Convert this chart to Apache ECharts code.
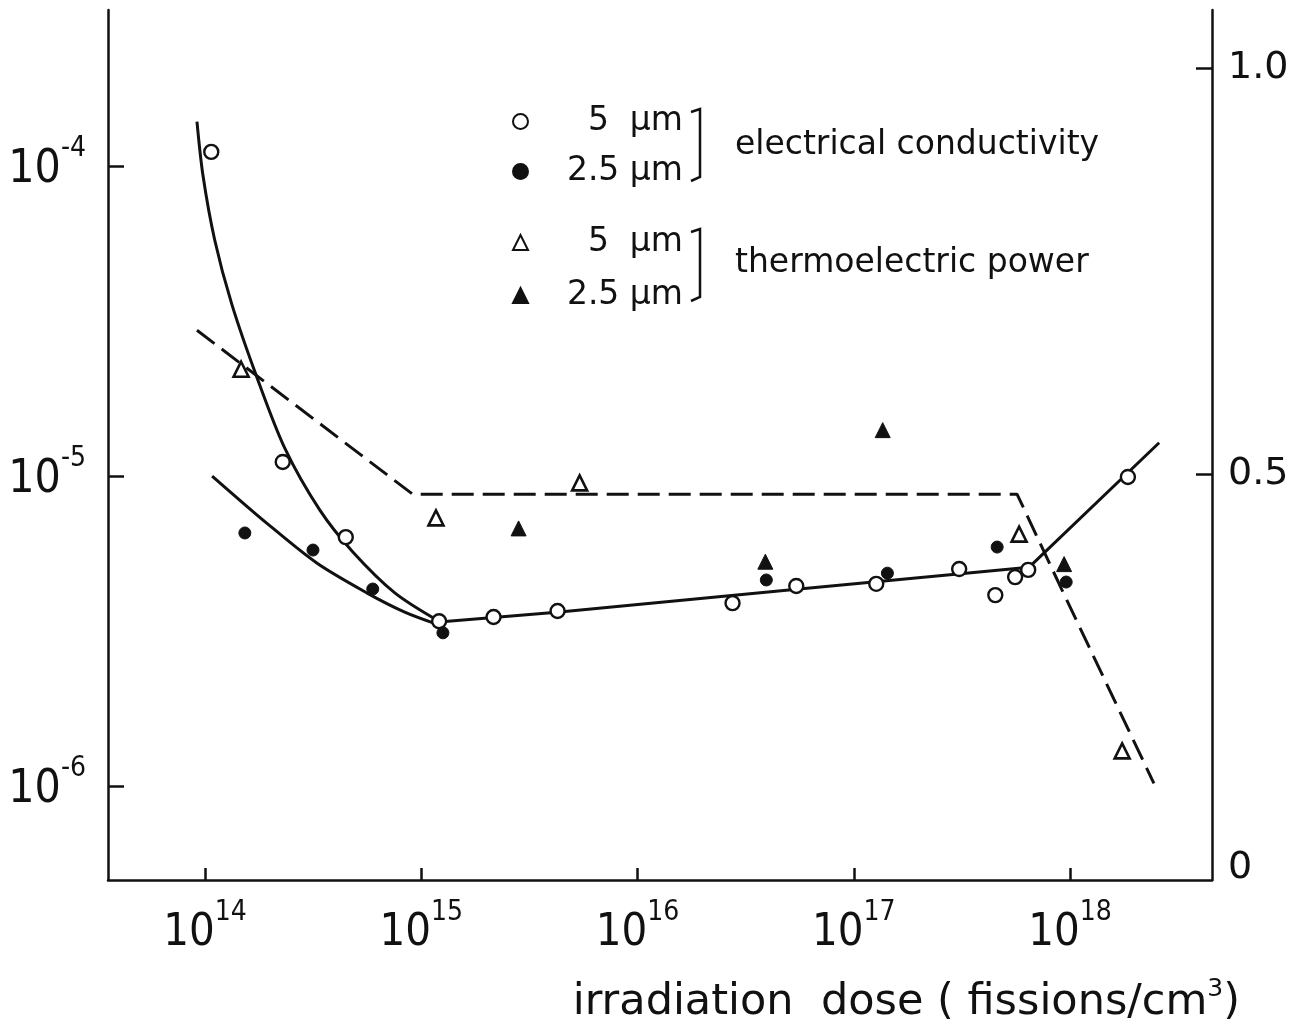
<!DOCTYPE html>
<html>
<head>
<meta charset="utf-8">
<script src="https://cdn.jsdelivr.net/npm/echarts@6/dist/echarts.min.js"></script>
<style>html,body{margin:0;padding:0;background:#fff}#c{width:1308px;height:1026px}</style>
</head>
<body>
<div id="c"></div>
<script>
// ---------- data ----------
// electrical conductivity, 5 µm (open circles) – left log axis
const cond5Dose = [1.07e14, 2.29e14, 4.48e14, 1.21e15, 2.16e15, 4.27e15, 2.75e16, 5.42e16, 1.27e17, 3.07e17, 4.51e17, 5.57e17, 6.40e17, 1.85e18];
const cond5Val  = [1.11e-4, 1.11e-5, 6.35e-6, 3.40e-6, 3.51e-6, 3.67e-6, 3.89e-6, 4.42e-6, 4.49e-6, 5.01e-6, 4.13e-6, 4.72e-6, 4.98e-6, 9.93e-6];
// electrical conductivity, 2.5 µm (filled circles)
const cond25Dose = [1.53e14, 3.16e14, 5.97e14, 1.26e15, 3.94e16, 1.43e17, 4.60e17, 9.59e17];
const cond25Val  = [6.55e-6, 5.77e-6, 4.32e-6, 3.12e-6, 4.62e-6, 4.86e-6, 5.90e-6, 4.55e-6];
// thermoelectric power, 5 µm (open triangles) – right linear axis
const tep5Dose = [1.47e14, 1.17e15, 5.40e15, 5.81e17, 1.74e18];
const tep5Val  = [0.629, 0.446, 0.489, 0.426, 0.159];
// thermoelectric power, 2.5 µm (filled triangles)
const tep25Dose = [2.82e15, 3.90e16, 1.36e17, 9.38e17];
const tep25Val  = [0.433, 0.392, 0.554, 0.389];
// drawn curves
const curveSteepDose = [9.19e13, 9.79e13, 1.11e14, 1.33e14, 1.74e14, 2.34e14, 3.40e14, 4.83e14, 7.55e14, 1.21e15];
const curveSteepVal  = [1.39e-4, 9.35e-5, 5.77e-5, 3.59e-5, 2.08e-5, 1.23e-5, 7.76e-6, 5.69e-6, 4.20e-6, 3.40e-6];
const curveLowDose = [1.08e14, 1.93e14, 3.29e14, 5.60e14, 8.39e14, 1.18e15];
const curveLowVal  = [1.00e-5, 7.05e-6, 5.24e-6, 4.20e-6, 3.64e-6, 3.33e-6];
const curveMainDose = [1.21e15, 4.37e15, 5.60e16, 6.47e17, 2.58e18];
const curveMainVal  = [3.38e-6, 3.64e-6, 4.32e-6, 5.08e-6, 1.28e-5];
const dashTepDose = [9.19e13, 9.14e14, 5.69e17, 9.18e17, 2.44e18];
const dashTepVal  = [0.677, 0.475, 0.475, 0.357, 0.119];
// tick labels
const xTickExp = [14, 15, 16, 17, 18];
const yLeftTickExp = [-6, -5, -4];
const yRightTicks = [0.5, 1.0];
const yRightLabels = [0, 0.5, 1.0];
const legendText = {
  'σ 5 µm': '5  µm', 'σ 2.5 µm': '2.5 µm',
  'S 5 µm': '5  µm', 'S 2.5 µm': '2.5 µm'
};

// ---------- chart ----------
const NUMFONT = "'DejaVu Sans Condensed','Liberation Sans Narrow','Liberation Sans',sans-serif";
const FONT = "'DejaVu Sans','Noto Sans',sans-serif";
const BLACK = '#111';
const logPairs = (xs, ys) => xs.map((x, i) => [Math.log10(x), Math.log10(ys[i])]);
const linPairs = (xs, ys) => xs.map((x, i) => [Math.log10(x), ys[i]]);

const chart = echarts.init(document.getElementById('c'), null, {renderer: 'canvas'});
const lineBase = {type: 'line', showSymbol: false, symbol: 'none', silent: true, z: 2,
  lineStyle: {color: BLACK, width: 3, opacity: 1}};

chart.setOption({
  animation: false,
  backgroundColor: '#fff',
  grid: {left: 108, right: 96, top: 10, bottom: 146, containLabel: false, outerBoundsMode: 'none'},
  xAxis: {
    type: 'value', min: 13.552, max: 18.656,
    splitLine: {show: false},
    axisLine: {show: true, onZero: false, lineStyle: {color: BLACK, width: 2.5}},
    axisTick: {show: true, inside: true, length: 12, customValues: xTickExp, lineStyle: {color: BLACK, width: 2.5}},
    axisLabel: {
      show: true, customValues: xTickExp, margin: 19, color: BLACK,
      formatter: v => '{b|10}{s|' + Math.round(v) + '}',
      rich: {
        b: {fontSize: 45, fontFamily: NUMFONT, color: BLACK},
        s: {fontSize: 28, fontFamily: NUMFONT, color: BLACK, padding: [0, 0, 40, 0]}
      }
    },
    name: '{t|irradiation  dose ( fissions/cm}{s|3}{t|)}',
    nameLocation: 'end', nameGap: 28,
    nameTextStyle: {
      align: 'right', verticalAlign: 'top', padding: [97, 0, 0, 0],
      rich: {
        t: {fontSize: 43, fontFamily: FONT, color: BLACK},
        s: {fontSize: 25, fontFamily: FONT, color: BLACK, padding: [0, 0, 27, 0]}
      }
    }
  },
  yAxis: [{
    type: 'value', min: -6.303, max: -3.497, position: 'left',
    splitLine: {show: false},
    axisLine: {show: true, onZero: false, lineStyle: {color: BLACK, width: 2.5}},
    axisTick: {show: true, inside: true, length: 16, customValues: yLeftTickExp, lineStyle: {color: BLACK, width: 2.5}},
    axisLabel: {
      show: true, customValues: yLeftTickExp, margin: 22, color: BLACK,
      formatter: v => '{b|10}{s|-' + Math.abs(Math.round(v)) + '}',
      rich: {
        b: {fontSize: 46, fontFamily: NUMFONT, color: BLACK, padding: [8, 0, 0, 0]},
        s: {fontSize: 28, fontFamily: NUMFONT, color: BLACK, padding: [0, 0, 34, 0]}
      }
    }
  }, {
    type: 'value', min: 0, max: 1.0714, position: 'right',
    splitLine: {show: false},
    axisLine: {show: true, onZero: false, lineStyle: {color: BLACK, width: 2.5}},
    axisTick: {show: true, inside: true, length: 16, customValues: yRightTicks, lineStyle: {color: BLACK, width: 2.5}},
    axisLabel: {
      show: true, customValues: yRightLabels, margin: 16, color: BLACK,
      formatter: v => v === 0 ? '{z|0}' : '{n|' + v.toFixed(1) + '}',
      rich: {
        n: {fontSize: 38, fontFamily: FONT, color: BLACK},
        z: {fontSize: 38, fontFamily: FONT, color: BLACK, padding: [0, 0, 24, 0]}
      }
    }
  }],
  legend: [{
    data: ['σ 5 µm', 'σ 2.5 µm'], orient: 'vertical', left: 507, top: 100,
    itemGap: 17, itemWidth: 15, itemHeight: 15, selectedMode: false,
    formatter: n => '{a|' + legendText[n] + '}',
    textStyle: {rich: {a: {width: 150, align: 'right', fontSize: 33, lineHeight: 35, fontFamily: FONT, color: BLACK}}}
  }, {
    data: ['S 5 µm', 'S 2.5 µm'], orient: 'vertical', left: 507, top: 221,
    itemGap: 20, itemWidth: 15, itemHeight: 15, selectedMode: false,
    formatter: n => '{a|' + legendText[n] + '}',
    textStyle: {rich: {a: {width: 150, align: 'right', fontSize: 33, lineHeight: 35, fontFamily: FONT, color: BLACK}}}
  }],
  graphic: [
    {type: 'polyline', shape: {points: [[691, 112], [700, 109], [700, 177], [691, 181]]},
     style: {stroke: BLACK, lineWidth: 2.5, fill: null}},
    {type: 'polyline', shape: {points: [[691, 232], [700, 229], [700, 297], [691, 301]]},
     style: {stroke: BLACK, lineWidth: 2.5, fill: null}},
    {type: 'text', left: 735, top: 129, style: {text: 'electrical conductivity', fontSize: 33, fontFamily: FONT, fill: BLACK}},
    {type: 'text', left: 735, top: 247, style: {text: 'thermoelectric power', fontSize: 33, fontFamily: FONT, fill: BLACK}}
  ],
  series: [
    Object.assign({}, lineBase, {name: 'fit steep', yAxisIndex: 0, smooth: 0.3, data: logPairs(curveSteepDose, curveSteepVal)}),
    Object.assign({}, lineBase, {name: 'fit low', yAxisIndex: 0, smooth: 0.3, data: logPairs(curveLowDose, curveLowVal)}),
    Object.assign({}, lineBase, {name: 'fit main', yAxisIndex: 0, smooth: false, data: logPairs(curveMainDose, curveMainVal)}),
    Object.assign({}, lineBase, {name: 'fit tep', yAxisIndex: 1, smooth: false, data: linPairs(dashTepDose, dashTepVal),
      lineStyle: {color: BLACK, width: 3, type: [22, 9], opacity: 1}}),
    {name: 'σ 5 µm', type: 'scatter', yAxisIndex: 0, symbol: 'circle', symbolSize: 14, z: 5,
     itemStyle: {color: '#fff', borderColor: BLACK, borderWidth: 2.4, opacity: 1}, data: logPairs(cond5Dose, cond5Val)},
    {name: 'σ 2.5 µm', type: 'scatter', yAxisIndex: 0, symbol: 'circle', symbolSize: 12, z: 5,
     itemStyle: {color: BLACK, borderColor: BLACK, borderWidth: 1, opacity: 1}, data: logPairs(cond25Dose, cond25Val)},
    {name: 'S 5 µm', type: 'scatter', yAxisIndex: 1, symbol: 'triangle', symbolSize: 15, z: 5,
     itemStyle: {color: '#fff', borderColor: BLACK, borderWidth: 2.6, opacity: 1}, data: linPairs(tep5Dose, tep5Val)},
    {name: 'S 2.5 µm', type: 'scatter', yAxisIndex: 1, symbol: 'triangle', symbolSize: 15, z: 5,
     itemStyle: {color: BLACK, borderColor: BLACK, borderWidth: 1, opacity: 1}, data: linPairs(tep25Dose, tep25Val)}
  ]
});
</script>
</body>
</html>
